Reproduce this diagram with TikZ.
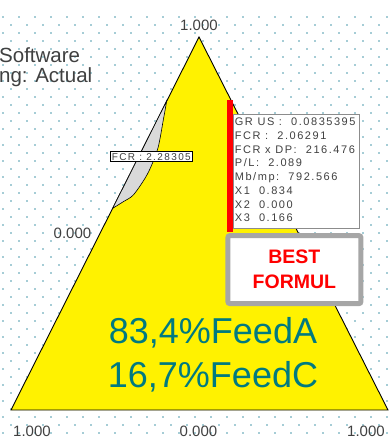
\documentclass[tikz,border=0pt]{standalone}
\usepackage{fontspec}
\setmainfont{Liberation Sans}
\newfontfamily\statfont[LetterSpace=14]{Liberation Sans}
\usetikzlibrary{positioning}
\setlength{\parindent}{0pt}
\definecolor{dotblue}{RGB}{166,205,214}
\definecolor{teal0}{RGB}{0,122,128}
\definecolor{ink}{RGB}{64,64,64}
\definecolor{shade}{RGB}{217,217,217}
\definecolor{frame}{RGB}{166,166,166}
\definecolor{edge}{RGB}{140,140,140}
\tikzset{
  vlabel/.style={font=\fontsize{15}{15}\selectfont, text=ink, inner sep=0pt},
  caption/.style={font=\fontsize{20.5}{24}\selectfont, text=ink, anchor=base west, inner sep=0pt},
  tag/.style={draw=black, fill=white, line width=0.6pt, inner sep=1.4pt, font=\statfont\fontsize{10}{10}\selectfont, text=ink},
}

\begin{document}
\begin{tikzpicture}[x=1pt,y=-1pt]
  \useasboundingbox (0,0) rectangle (391,440);
  % dotted background
  \foreach \r in {0,...,52}
    \foreach \c in {0,...,24}
      \fill[dotblue] ({mod(\r,2)*8+2+16*\c},{16+8*\r}) rectangle ++(2,2);
  \node[caption] (cap1) at (-1,62.7) {Software};
  \node[caption] (cap2) at (-1,82.7) {ng: Actual};
  % mixing triangle
  \coordinate (apex) at (199,37);
  \coordinate (feedA) at (11,410);
  \coordinate (feedC) at (388,410);
  \draw[fill=yellow, line width=0.9pt] (apex) -- (feedA) -- (feedC) -- cycle;
  % feasible area
  \draw[fill=shade, line width=0.6pt] plot[smooth] coordinates {(112.7,208.3) (123.3,201.7) (133.3,195) (145,178.3) (151.7,165) (158.3,146.7) (163.3,120) (166.7,101)} -- cycle;
  \node[tag] (fcr) at (151.3,156.7) {FCR : 2.28305};
  % result box
  \node[draw=edge, fill=white, line width=0.8pt, anchor=north west, minimum width=126.6pt, minimum height=114.3pt, inner sep=0pt] (stats) at (232.7,114) {};
  \node[anchor=north west, align=left, inner sep=0pt, font=\statfont\fontsize{11}{13.7}\selectfont, text=ink] (statlines) at ([xshift=2pt,yshift=-4pt]stats.north west)
    {GR US :\ \ 0.0835395\\FCR :\ \ 2.06291\\FCR x DP:\ \ 216.476\\P/L:\ \ 2.089\\Mb/mp:\ \ 792.566\\X1\ \ 0.834\\X2\ \ 0.000\\X3\ \ 0.166};
  \fill[red] (226.5,100) rectangle (233,232);
  \node[draw=frame, line width=5pt, rounded corners=2pt, fill=white, minimum width=133pt, minimum height=68pt, text=red, font=\bfseries\fontsize{19.5}{25}\selectfont, align=center, below=4pt of stats, xshift=-2pt] (best) {BEST\\FORMUL};
  \node[font=\fontsize{36}{44}\selectfont, text=teal0, align=center] (mix) at (213,355) {83,4\%FeedA\\16,7\%FeedC};
  % corner values
  \node[vlabel] (topval) at (199,25) {1.000};
  \node[vlabel] (midval) at (72.5,233) {0.000};
  \node[vlabel] (leftval) at (32,431) {1.000};
  \node[vlabel] (baseval) at (198.5,431) {0.000};
  \node[vlabel] (rightval) at (366,431) {1.000};
\end{tikzpicture}
\end{document}
